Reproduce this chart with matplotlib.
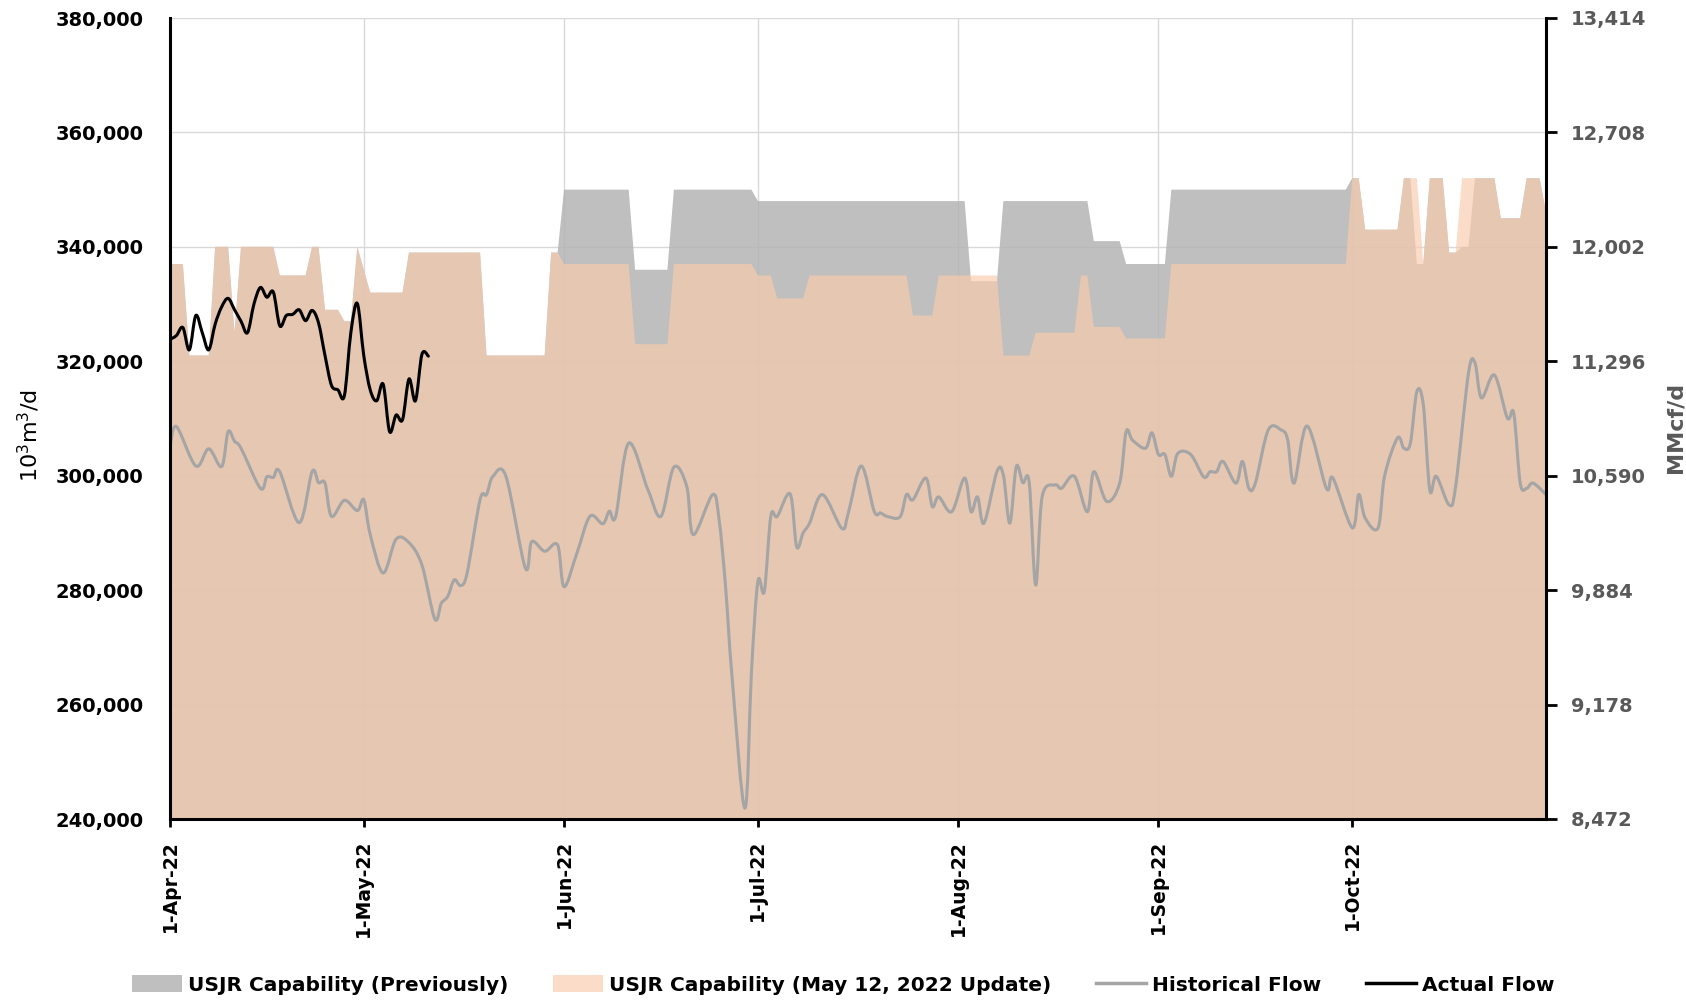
import matplotlib
matplotlib.use('Agg')
import matplotlib.pyplot as plt
import matplotlib.dates as mdates
import numpy as np
from matplotlib.patches import Patch, PathPatch
from matplotlib.lines import Line2D
from matplotlib.path import Path

# ---------------- data ----------------
start_date = np.datetime64('2022-04-01')

# USJR Capability (May 12, 2022 Update) - day offsets from 1-Apr-22, values 10^3 m3/d
new_cap_days = [0, 2, 3, 6, 7, 9, 10, 11, 16, 17, 21, 22, 23, 24, 26, 27, 28, 29, 31, 36,
                37, 48, 49, 58, 59, 60, 61, 71, 72, 77, 78, 90, 91, 93, 94, 98, 99, 114, 115, 118,
                119, 128, 129, 133, 134, 140, 141, 142, 143, 147, 148, 154, 155, 182, 183, 184, 185,
                190, 191, 193, 194, 195, 197, 198, 199, 200, 205, 206, 209, 210, 212, 213]
new_cap_vals = [337000, 337000, 321000, 321000, 340000, 340000, 325000, 340000, 340000, 335000,
                335000, 340000, 340000, 329000, 329000, 327000, 327000, 340000, 332000, 332000,
                339000, 339000, 321000, 321000, 339000, 339000, 337000, 337000, 323000, 323000,
                337000, 337000, 335000, 335000, 331000, 331000, 335000, 335000, 328000, 328000,
                335000, 335000, 321000, 321000, 325000, 325000, 335000, 335000, 326000, 326000,
                324000, 324000, 337000, 337000, 352000, 352000, 343000, 343000, 352000, 352000,
                337000, 352000, 352000, 339000, 339000, 352000, 352000, 345000, 345000, 352000,
                352000, 346000]

# USJR Capability (Previously)
prev_cap_days = [0, 2, 3, 6, 7, 9, 10, 11, 16, 17, 21, 22, 23, 24, 26, 27, 28, 29, 31, 36,
                 37, 48, 49, 58, 59, 60, 61, 71, 72, 77, 78, 90, 91, 123, 124, 128, 129, 142, 143,
                 147, 148, 154, 155, 182, 183, 184, 185, 190, 191, 192, 193, 194, 195, 197, 198,
                 199, 200, 201, 202, 205, 206, 209, 210, 212, 213]
prev_cap_vals = [337000, 337000, 321000, 321000, 340000, 340000, 325000, 340000, 340000, 335000,
                 335000, 340000, 340000, 329000, 329000, 327000, 327000, 340000, 332000, 332000,
                 339000, 339000, 321000, 321000, 339000, 339000, 350000, 350000, 336000, 336000,
                 350000, 350000, 348000, 348000, 334000, 334000, 348000, 348000, 341000,
                 341000, 337000, 337000, 350000, 350000, 352000, 352000, 343000, 343000, 352000,
                 352000, 337000, 337000, 352000, 352000, 339000, 339000, 340000, 340000, 352000,
                 352000, 345000, 345000, 352000, 352000, 346000]

# Historical Flow
hist_days = [0, 1, 4, 6, 8, 9, 10, 11, 14, 15, 16, 17, 20, 22, 23, 24, 25, 27, 29, 30,
             31, 33, 35, 37, 39, 41, 42, 43, 44, 45, 46, 48, 49, 50, 52, 55, 56, 58, 60, 61,
             63, 65, 67, 68, 69, 71, 74, 76, 78, 80, 81, 84, 85, 86, 87, 89, 90, 91, 92, 93,
             94, 96, 97, 98, 99, 101, 104, 105, 107, 109, 110, 111, 113, 114, 115, 117, 118, 119, 121, 123,
             124, 125, 126, 128, 129, 130, 131, 132, 133, 134, 135, 137, 138, 140, 142, 143, 145, 147, 148, 149,
             151, 152, 153, 154, 155, 156, 158, 160, 161, 162, 163, 165, 166, 167, 168, 170, 172, 173, 174, 176,
             179, 180, 183, 184, 185, 187, 188, 190, 191, 192, 193, 194, 195, 196, 198, 199, 201, 202, 203, 205,
             207, 208, 209, 210, 211, 213]
hist_vals = [305000, 308600, 301700, 304700, 301600, 307700, 306000, 304800, 297800, 299800,
             299700, 300700, 291800, 300700, 298800, 298700, 292900, 295700, 293900, 295800,
             289700, 283000, 288900, 288300, 284400, 274950, 277700, 278900, 281800, 280800,
             283000, 295800, 296700, 299900, 299900, 283900, 288500, 286800, 287900, 280600,
             286500, 292900, 291600, 293800, 292900, 305700, 297500, 292900, 301500, 298100,
             289700, 296700, 292300, 280600, 264900, 241900, 265500, 281500, 279800, 292900,
             292900, 296800, 287600, 290000, 291700, 296700, 290800, 293500, 301700, 293800,
             293500, 292900, 292800, 296700, 295800, 299600, 294600, 296300, 293700, 299600,
             293700, 296300, 291700, 300700, 300100, 291700, 301600, 298800, 298800, 280900,
             296300, 298400, 297800, 299900, 293700, 300700, 295500, 298700, 307700, 306200,
             304800, 307500, 303700, 303700, 299900, 303900, 303700, 299800, 300700, 300700,
             302500, 298700, 302500, 297800, 298700, 308000, 308000, 306300, 298700, 308700,
             297800, 299600, 290900, 296700, 292600, 290900, 299900, 306600, 304800, 305700,
             314700, 312400, 297500, 299900, 294900, 298100, 318000, 319700, 313600, 317600,
             310100, 310900, 298700, 297800, 298700, 296700]

# Actual Flow
actual_days = list(range(0, 41))
actual_vals = [323800, 324500, 325900, 322000, 328000, 325000, 322000, 326500, 329500, 331000,
               329000, 327000, 325000, 330000, 332900, 331200, 332100, 326200, 328000, 328200,
               329000, 327100, 328900, 326700, 321000, 315800, 315000, 314000, 325000, 330100,
               321000, 315000, 313100, 316000, 307700, 310600, 309800, 316900, 313100, 321200,
               320900]

left_ticks = [240000, 260000, 280000, 300000, 320000, 340000, 360000, 380000]
right_ticks = [8472, 9178, 9884, 10590, 11296, 12002, 12708, 13414]
month_tick_days = [0, 30, 61, 91, 122, 153, 183]
month_tick_labels = ['1-Apr-22', '1-May-22', '1-Jun-22', '1-Jul-22', '1-Aug-22', '1-Sep-22', '1-Oct-22']
series_labels = ['USJR Capability (Previously)', 'USJR Capability (May 12, 2022 Update)',
                 'Historical Flow', 'Actual Flow']


def to_dates(days):
    return start_date + np.array(days, dtype='timedelta64[D]')


def smooth_line(ax, days, vals, **kw):
    """Draw a line through the data points with Excel-like smoothing (Bezier segments)."""
    x = mdates.date2num(to_dates(days))
    y = np.asarray(vals, dtype=float)
    n = len(x)
    verts = [(x[0], y[0])]
    codes = [Path.MOVETO]
    for i in range(n - 1):
        p0 = np.array([x[max(i - 1, 0)], y[max(i - 1, 0)]])
        p1 = np.array([x[i], y[i]])
        p2 = np.array([x[i + 1], y[i + 1]])
        p3 = np.array([x[min(i + 2, n - 1)], y[min(i + 2, n - 1)]])
        c1 = p1 + (p2 - p0) / 6.0
        c2 = p2 - (p3 - p1) / 6.0
        verts += [tuple(c1), tuple(c2), tuple(p2)]
        codes += [Path.CURVE4] * 3
    patch = PathPatch(Path(verts, codes), facecolor='none', capstyle='round',
                      joinstyle='round', **kw)
    ax.add_patch(patch)
    return patch


# ---------------- plot ----------------
GRAY_AREA = '#B4B4B4'
GRAY_ALPHA = 0.85          # gives #BFBFBF over white
PEACH = '#F8CBAD'
PEACH_ALPHA = 0.67
HIST_COLOR = '#A5A5A5'

fig = plt.figure(figsize=(16.86, 10), dpi=100)
ax = fig.add_axes([0.1008, 0.181, 0.8162, 0.801])

ax.fill_between(to_dates(prev_cap_days), prev_cap_vals, 0, color=GRAY_AREA, alpha=GRAY_ALPHA,
                lw=0, zorder=1)
ax.fill_between(to_dates(new_cap_days), new_cap_vals, 0, color=PEACH, alpha=PEACH_ALPHA, lw=0, zorder=1.5)
smooth_line(ax, hist_days, hist_vals, edgecolor=HIST_COLOR, lw=2.2, zorder=3)
smooth_line(ax, actual_days, actual_vals, edgecolor='black', lw=2.2, zorder=4)

ax.set_xlim(to_dates([0])[0], to_dates([213])[0])
ax.set_ylim(240000, 380000)

ax.set_yticks(left_ticks)
ax.set_yticklabels([f'{v:,}' for v in left_ticks], fontsize=14, fontweight='bold', color='black')
ax.set_xticks(to_dates(month_tick_days))
ax.set_xticklabels(month_tick_labels, rotation=90, fontsize=13.5, fontweight='bold', color='black',
                   ha='center', va='top')

ax.tick_params(axis='y', length=0, pad=19)
ax.tick_params(axis='x', direction='out', length=6, width=2, color='black', pad=9)

ax.set_axisbelow(True)
ax.grid(True, color='#D9D9D9', lw=1.0)

ax.spines['top'].set_visible(False)
ax.spines['right'].set_visible(False)
ax.spines['left'].set_linewidth(2.2)
ax.spines['bottom'].set_linewidth(2.2)
ax.spines['left'].set_zorder(5)
ax.spines['bottom'].set_zorder(5)

ax2 = ax.twinx()
ax2.set_ylim(right_ticks[0], right_ticks[-1])
ax2.set_yticks(right_ticks)
ax2.set_yticklabels([f'{v:,}' for v in right_ticks], fontsize=14, fontweight='bold', color='#595959')
ax2.tick_params(axis='y', direction='out', length=8, width=2, color='black', pad=10)
for s in ['top', 'left', 'bottom']:
    ax2.spines[s].set_visible(False)
ax2.spines['right'].set_linewidth(2.2)
ax2.spines['right'].set_color('black')

fig.text(0.017, 0.565, '10$^3$m$^3$/d', rotation=90, ha='center', va='center',
         fontsize=16, color='black')
fig.text(0.9935, 0.573, 'MMcf/d', rotation=90, ha='center', va='center',
         fontsize=16, fontweight='bold', color='#595959')

handles = [Patch(facecolor='#BFBFBF', edgecolor='none'),
           Patch(facecolor=PEACH, alpha=PEACH_ALPHA, edgecolor='none'),
           Line2D([0], [0], color=HIST_COLOR, lw=2.5),
           Line2D([0], [0], color='black', lw=2.5)]
fig.legend(handles, series_labels, loc='center', bbox_to_anchor=(0.5, 0.015), ncol=4,
           frameon=False, prop={'weight': 'bold', 'size': 14.5}, handlelength=2.5,
           handletextpad=0.3, columnspacing=2.2, handleheight=0.9)

fig.savefig('out.png', dpi=100)
